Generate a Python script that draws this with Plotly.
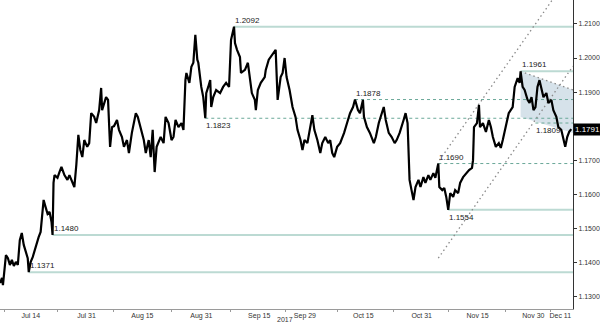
import plotly.graph_objects as go

# x = trading-session number counted from Fri 7 Jul 2017 (weekends removed)
session = [
    -1.05, -0.66, -0.47, -0.08, 0.12, 0.51, 0.90, 1.29, 1.68, 2.07, 2.46, 2.85, 3.24, 3.63, 4.02, 4.41, 4.61,
    5.00, 5.39, 5.78, 6.17, 6.56, 6.95, 7.34, 7.54, 7.93, 8.32, 8.71, 9.10, 9.30, 9.49, 9.69, 10.27, 10.66,
    11.05, 11.64, 12.23, 12.62, 13.01, 13.59, 13.98, 14.38, 14.77, 15.16, 15.55, 16.13, 16.52, 16.91, 17.50,
    17.89, 18.48, 18.87, 19.06, 19.45, 19.84, 20.23, 20.63, 21.02, 21.41, 21.99, 22.38, 22.97, 23.36, 23.95,
    24.34, 24.92, 25.70, 26.09, 26.68, 27.27, 27.66, 28.24, 28.63, 29.02, 29.41, 29.80, 30.59, 31.17, 31.56,
    32.15, 32.73, 33.12, 33.52, 34.10, 34.69, 35.08, 35.47, 35.66, 36.25, 36.64, 37.03, 37.42, 37.81, 38.01,
    38.59, 38.98, 39.38, 39.57, 39.96, 40.35, 40.55, 40.94, 41.52, 42.30, 42.89, 43.48, 44.06, 44.26, 44.45,
    45.04, 45.23, 45.63, 46.21, 46.41, 47.19, 47.77, 48.16, 48.55, 49.14, 49.34, 49.73, 50.31, 51.09, 51.29,
    51.88, 52.27, 52.85, 53.24, 53.63, 54.22, 54.61, 55.00, 55.39, 55.98, 56.56, 57.15, 57.54, 58.13, 58.52,
    58.91, 59.49, 60.08, 60.47, 60.86, 61.45, 62.03, 62.42, 63.01, 63.59, 63.98, 64.38, 64.77, 65.35, 65.94,
    66.72, 67.30, 67.89, 68.48, 68.87, 69.45, 69.84, 70.43, 70.63, 71.21, 71.80, 72.58, 72.97, 73.55, 74.14,
    74.53, 74.92, 75.51, 76.09, 76.68, 77.07, 77.66, 78.44, 78.83, 79.22, 79.41, 79.61, 80.00, 80.39, 80.78,
    81.37, 81.76, 82.34, 82.73, 83.32, 83.71, 84.30, 84.69, 85.08, 85.27, 85.47, 86.05, 86.45, 86.84, 87.23,
    87.62, 88.20, 88.59, 89.18, 89.57, 90.16, 90.74, 91.33, 91.91, 92.11, 92.30, 92.89, 93.28, 93.48, 94.06,
    94.65, 95.23, 95.63, 96.02, 96.60, 97.19, 97.58, 97.97, 98.55, 99.14, 99.53, 99.92, 100.31, 100.90,
    101.29, 101.48, 101.88, 102.27, 102.85, 103.24, 103.63, 104.02, 104.41, 104.80, 105.20, 105.59, 105.98,
    106.56, 106.95, 107.54, 107.93, 108.52, 108.91, 109.49, 109.88, 110.27, 110.66, 111.05, 111.45,
]
eurusd = [
    1.1339, 1.1354, 1.1333, 1.1401, 1.1421, 1.1412, 1.1392, 1.1407, 1.1389, 1.1401, 1.1392, 1.1465, 1.1486, 1.1451, 1.1430, 1.1412, 1.1371,
    1.1401, 1.1415, 1.1436, 1.1457, 1.1474, 1.1489, 1.1539, 1.1583, 1.1562, 1.1542, 1.1548, 1.1518, 1.1480, 1.1633, 1.1656, 1.1648, 1.1665,
    1.1680, 1.1656, 1.1642, 1.1656, 1.1642, 1.1621, 1.1686, 1.1774, 1.1730, 1.1709, 1.1759, 1.1739, 1.1750, 1.1838, 1.1827,
    1.1809, 1.1847, 1.1912, 1.1847, 1.1868, 1.1885, 1.1877, 1.1739, 1.1797, 1.1800, 1.1818, 1.1789, 1.1768, 1.1739, 1.1759,
    1.1721, 1.1780, 1.1838, 1.1827, 1.1789, 1.1759, 1.1721, 1.1759, 1.1709, 1.1789, 1.1665, 1.1739, 1.1768, 1.1750, 1.1827,
    1.1809, 1.1759, 1.1768, 1.1818, 1.1797, 1.1809, 1.1789, 1.1935, 1.1956, 1.1927, 1.1974, 1.1986, 1.2068, 1.1995, 1.1986,
    1.1915, 1.1885, 1.1823, 1.1897, 1.1915, 1.1935, 1.1856, 1.1885, 1.1906, 1.1897, 1.1915, 1.1927, 1.1915, 1.2015, 1.2053,
    1.2092, 1.2044, 1.2024, 1.2003, 1.1956, 1.1965, 1.1986, 1.1935, 1.1897, 1.1877, 1.1847, 1.1906, 1.1927, 1.1944, 1.1965,
    1.1995, 1.2003, 1.2015, 1.2024, 1.1877, 1.1944, 1.1956, 1.2000, 1.1944, 1.1906, 1.1856, 1.1827, 1.1789, 1.1759, 1.1730,
    1.1759, 1.1750, 1.1797, 1.1832, 1.1789, 1.1759, 1.1721, 1.1750, 1.1768, 1.1750, 1.1759, 1.1721, 1.1709, 1.1739, 1.1750,
    1.1780, 1.1809, 1.1838, 1.1856, 1.1878, 1.1847, 1.1838, 1.1877, 1.1827, 1.1797, 1.1780, 1.1750, 1.1768, 1.1809, 1.1838,
    1.1856, 1.1818, 1.1780, 1.1768, 1.1750, 1.1759, 1.1780, 1.1818, 1.1838, 1.1809, 1.1700, 1.1642, 1.1612, 1.1583, 1.1621,
    1.1642, 1.1621, 1.1650, 1.1633, 1.1656, 1.1642, 1.1662, 1.1648, 1.1671, 1.1690, 1.1621, 1.1612, 1.1618, 1.1592, 1.1554,
    1.1603, 1.1592, 1.1612, 1.1603, 1.1633, 1.1650, 1.1662, 1.1671, 1.1677, 1.1700, 1.1797, 1.1809, 1.1862, 1.1797, 1.1809,
    1.1783, 1.1818, 1.1797, 1.1768, 1.1739, 1.1750, 1.1736, 1.1759, 1.1797, 1.1838, 1.1847, 1.1856, 1.1915, 1.1941,
    1.1927, 1.1961, 1.1915, 1.1906, 1.1877, 1.1868, 1.1885, 1.1847, 1.1856, 1.1915, 1.1935, 1.1906, 1.1885,
    1.1897, 1.1868, 1.1877, 1.1847, 1.1827, 1.1797, 1.1789, 1.1768, 1.1739, 1.1768, 1.1783, 1.1791,
]
last_price = 1.1791

# support / resistance levels
levels = [1.2092, 1.1961, 1.1878, 1.1823, 1.1809, 1.1690, 1.1554, 1.1480, 1.1371]
level_start = [45.04, 101.48, 68.87, 39.38, 104.4, 85.27, 87.23, 9.30, 4.61]
level_dashed = [False, False, True, True, True, True, False, False, False]
level_label_below = [False, False, False, True, True, False, True, False, False]

# trend channel (dotted) and falling wedge
channel_upper_x = [85.5, 107.7]
channel_upper_y = [1.1700, 1.2170]
channel_lower_x = [85.27, 111.8]
channel_lower_y = [1.1412, 1.1976]
wedge_x = [101.48, 111.8, 111.8, 101.48]
wedge_y = [1.1961, 1.1906, 1.1780, 1.1827]

x_range = [-1.05, 111.8]
y_range = [1.12627, 1.21704]

tick_session = [5, 16, 27, 38.6, 50, 59, 70.5, 82, 93, 104, 109.3]
tick_text = ["Jul 14", "Jul 31", "Aug 15", "Aug 31", "Sep 15", "Sep 29", "Oct 15", "Oct 31", "Nov 15", "Nov 30", "Dec 11"]
minor_session = [-0.08, 10.3, 21.4, 32.7, 44.4, 55.2, 65.4, 76.5, 87.2, 98.6, 107.4]
price_ticks = [1.13, 1.14, 1.15, 1.16, 1.17, 1.18, 1.19, 1.20, 1.21]
# the 1.1800 label sits under the last-price box in the original
price_tick_text = ["1.1300", "1.1400", "1.1500", "1.1600", "1.1700", "", "1.1900", "1.2000", "1.2100"]

FONT = "Liberation Sans Narrow, Liberation Sans, Arial, sans-serif"

fig = go.Figure()

# wedge shading
fig.add_trace(go.Scatter(x=wedge_x + [wedge_x[0]], y=wedge_y + [wedge_y[0]], mode="lines",
                         fill="toself", fillcolor="rgba(196,213,225,0.7)", line=dict(width=0),
                         hoverinfo="skip", showlegend=False))

# level lines
for lv, st, dsh in zip(levels, level_start, level_dashed):
    if dsh:
        ln = dict(color="#6aa898", width=1, dash="3px,3px")
    else:
        ln = dict(color="#bcdad3", width=2)
    fig.add_trace(go.Scatter(x=[st, x_range[1]], y=[lv, lv], mode="lines", line=ln,
                             hoverinfo="skip", showlegend=False))

# channel lines
dot = dict(color="#8a8a8a", width=1.3, dash="1.5px,3px")
fig.add_trace(go.Scatter(x=channel_upper_x, y=channel_upper_y, mode="lines", line=dot, showlegend=False))
fig.add_trace(go.Scatter(x=channel_lower_x, y=channel_lower_y, mode="lines", line=dot, showlegend=False))
fig.add_trace(go.Scatter(x=wedge_x[:2], y=wedge_y[:2], mode="lines", line=dot, showlegend=False))

# price
fig.add_trace(go.Scatter(x=session, y=eurusd, mode="lines", line=dict(color="#000000", width=2.2),
                         showlegend=False))

annotations = []
for lv, st, below in zip(levels, level_start, level_label_below):
    annotations.append(dict(x=st, y=lv, xref="x", yref="y", text=f"{lv:.4f}", showarrow=False,
                            xanchor="left", yanchor="top" if below else "bottom",
                            yshift=-1 if below else 0, xshift=-1,
                            font=dict(family=FONT, size=8, color="#222")))
annotations.append(dict(x=1, y=last_price, xref="paper", yref="y", text=f"{last_price:.4f}",
                        showarrow=False, xanchor="left", yanchor="middle", bgcolor="#000000",
                        borderpad=1, font=dict(family=FONT, size=8, color="#ffffff")))
annotations.append(dict(x=0.497, y=-0.035, xref="paper", yref="paper", text="2017", showarrow=False,
                        xanchor="center", yanchor="middle", font=dict(family=FONT, size=7, color="#333")))

fig.update_layout(
    width=600, height=323,
    margin=dict(l=0, r=22, t=0, b=14),
    paper_bgcolor="#ffffff", plot_bgcolor="#ffffff",
    showlegend=False,
    annotations=annotations,
    xaxis=dict(range=x_range, tickmode="array", tickvals=tick_session, ticktext=tick_text,
               ticks="", showgrid=False, zeroline=False, showline=True, linecolor="#9a9a9a",
               linewidth=1, tickfont=dict(family=FONT, size=7, color="#333"),
               minor=dict(tickmode="array", tickvals=minor_session, ticks="outside", ticklen=2,
                          tickcolor="#9a9a9a", showgrid=False)),
    yaxis=dict(range=y_range, side="right", tickmode="array", tickvals=price_ticks,
               ticktext=price_tick_text, ticks="outside", ticklen=3, tickcolor="#333",
               showgrid=False, zeroline=False, showline=True, linecolor="#333", linewidth=1,
               tickfont=dict(family=FONT, size=7, color="#333")),
)

fig.write_html("out.html")
